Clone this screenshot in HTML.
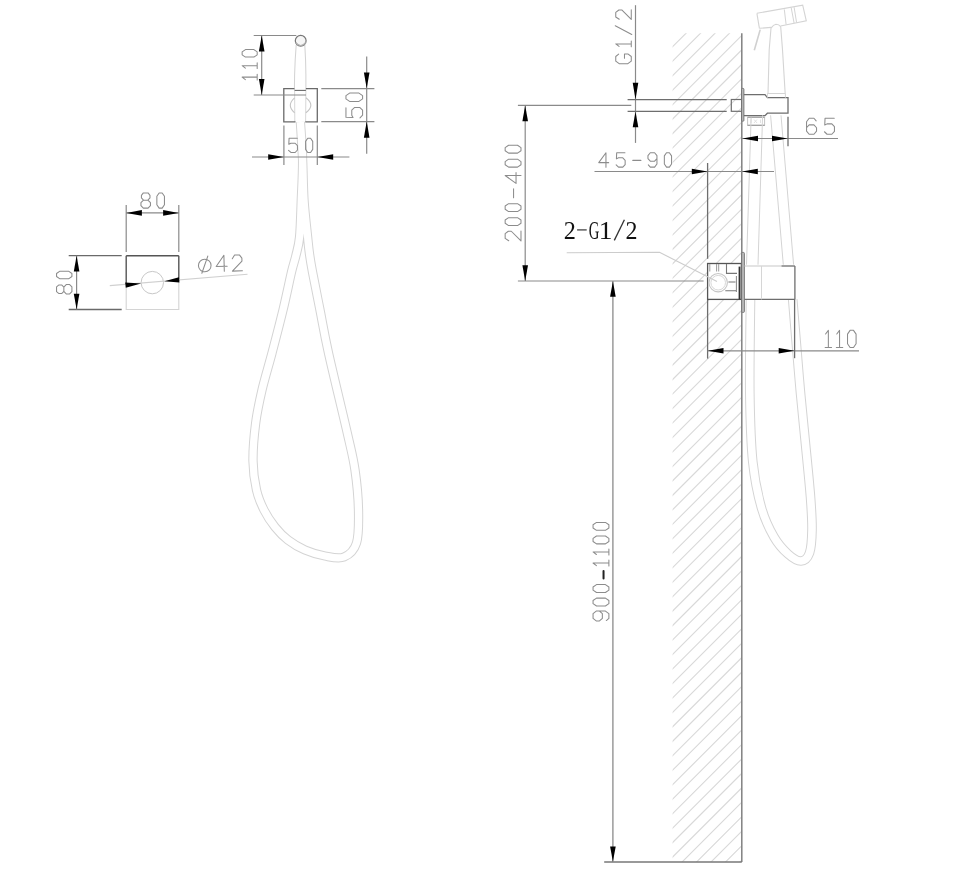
<!DOCTYPE html>
<html><head><meta charset="utf-8"><title>Hygienic shower set drawing</title>
<style>
html,body{margin:0;padding:0;background:#fff;}
body{width:970px;height:870px;overflow:hidden;font-family:"Liberation Sans",sans-serif;}
svg{display:block;}
</style></head>
<body>
<svg width="970" height="870" viewBox="0 0 970 870">
<rect width="970" height="870" fill="#fff"/>
<path d="M300.4,122C300.77,128.33 302.45,147 302.6,160C302.75,173 301.8,187.17 301.3,200C300.8,212.83 300.52,227.67 299.6,237C298.68,246.33 297.15,250.17 295.8,256C294.45,261.83 293.63,263 291.5,272C289.37,281 286.25,296.5 283,310C279.75,323.5 275.5,339.67 272,353C268.5,366.33 264.73,378.25 262,390C259.27,401.75 257.1,411.67 255.6,423.5C254.1,435.33 252.85,449.92 253,461C253.15,472.08 254.67,481.83 256.5,490C258.33,498.17 260.92,503.83 264,510C267.08,516.17 271,522 275,527C279,532 283,536.17 288,540C293,543.83 298.83,547.33 305,550C311.17,552.67 318.5,554.83 325,556C331.5,557.17 338.75,559.17 344,557C349.25,554.83 354.08,550.83 356.5,543C358.92,535.17 358.75,522.17 358.5,510C358.25,497.83 356.83,482.67 355,470C353.17,457.33 351.92,453.5 347.5,434C343.08,414.5 333.08,373.67 328.5,353C323.92,332.33 322.67,323.5 320,310C317.33,296.5 314.25,281.33 312.5,272C310.75,262.67 310.32,259.83 309.5,254C308.68,248.17 308.52,246 307.6,237C306.68,228 304.83,212.83 304,200C303.17,187.17 303.2,173 302.6,160C302,147 300.77,128.33 300.4,122" fill="none" stroke="#d4d4d4" stroke-width="9.3" stroke-linejoin="round"/>
<path d="M300.4,122C300.77,128.33 302.45,147 302.6,160C302.75,173 301.8,187.17 301.3,200C300.8,212.83 300.52,227.67 299.6,237C298.68,246.33 297.15,250.17 295.8,256C294.45,261.83 293.63,263 291.5,272C289.37,281 286.25,296.5 283,310C279.75,323.5 275.5,339.67 272,353C268.5,366.33 264.73,378.25 262,390C259.27,401.75 257.1,411.67 255.6,423.5C254.1,435.33 252.85,449.92 253,461C253.15,472.08 254.67,481.83 256.5,490C258.33,498.17 260.92,503.83 264,510C267.08,516.17 271,522 275,527C279,532 283,536.17 288,540C293,543.83 298.83,547.33 305,550C311.17,552.67 318.5,554.83 325,556C331.5,557.17 338.75,559.17 344,557C349.25,554.83 354.08,550.83 356.5,543C358.92,535.17 358.75,522.17 358.5,510C358.25,497.83 356.83,482.67 355,470C353.17,457.33 351.92,453.5 347.5,434C343.08,414.5 333.08,373.67 328.5,353C323.92,332.33 322.67,323.5 320,310C317.33,296.5 314.25,281.33 312.5,272C310.75,262.67 310.32,259.83 309.5,254C308.68,248.17 308.52,246 307.6,237C306.68,228 304.83,212.83 304,200C303.17,187.17 303.2,173 302.6,160C302,147 300.77,128.33 300.4,122" fill="none" stroke="#fff" stroke-width="7.3" stroke-linejoin="round"/>
<path d="M750.5,299.4C750.38,315 749.42,365.9 749.8,393C750.18,420.1 750.85,442.83 752.8,462C754.75,481.17 757.97,495.5 761.5,508C765.03,520.5 769.58,529.33 774,537C778.42,544.67 783.5,550 788,554C792.5,558 797.42,561.17 801,561C804.58,560.83 807.67,558.17 809.5,553C811.33,547.83 811.83,539.33 812,530C812.17,520.67 811.57,511.17 810.5,497C809.43,482.83 807.27,462.33 805.6,445C803.93,427.67 802.07,410.17 800.5,393C798.93,375.83 797.5,357.6 796.2,342C794.9,326.4 793.28,306.5 792.7,299.4" fill="none" stroke="#d4d4d4" stroke-width="9.6" stroke-linejoin="round"/>
<path d="M750.5,299.4C750.38,315 749.42,365.9 749.8,393C750.18,420.1 750.85,442.83 752.8,462C754.75,481.17 757.97,495.5 761.5,508C765.03,520.5 769.58,529.33 774,537C778.42,544.67 783.5,550 788,554C792.5,558 797.42,561.17 801,561C804.58,560.83 807.67,558.17 809.5,553C811.33,547.83 811.83,539.33 812,530C812.17,520.67 811.57,511.17 810.5,497C809.43,482.83 807.27,462.33 805.6,445C803.93,427.67 802.07,410.17 800.5,393C798.93,375.83 797.5,357.6 796.2,342C794.9,326.4 793.28,306.5 792.7,299.4" fill="none" stroke="#fff" stroke-width="7.6" stroke-linejoin="round"/>
<path d="M296.2,45 Q295,60 294.6,75 L294.4,90.3 M304.8,45 Q305.8,60 305.9,75 L305.9,90.3" stroke="#d2d2d2" stroke-width="1" fill="none"/>
<path d="M294.6,90.3 L294.8,122 M305.9,90.3 L305.6,122" stroke="#d8d8d8" stroke-width="1" fill="none"/>
<circle cx="300.7" cy="40.8" r="5.4" fill="#f6f6f6" stroke="#777" stroke-width="1.2"/>
<path d="M295.6,42.5 Q300.7,48.5 305.8,42.5" stroke="#b0b0b0" stroke-width="1.2" fill="none"/>
<path d="M294.4,88.6 L283.8,88.6 L283.8,121.8 L295.5,121.8 M305.3,121.8 L317.3,121.8 L317.3,88.6 L305.9,88.6" stroke="#6a6a6a" stroke-width="1.3" fill="none"/>
<line x1="294.6" y1="90.4" x2="305.9" y2="90.4" stroke="#6a6a6a" stroke-width="1.1"/>
<path d="M294.6,97.8 Q286,105.3 294.6,112.8 M305.9,97.8 Q315.8,105.3 305.9,112.8" stroke="#c4c4c4" stroke-width="1.1" fill="none"/>
<line x1="253.7" y1="35.5" x2="296.3" y2="35.5" stroke="#8a8a8a" stroke-width="1.2"/>
<line x1="253.7" y1="95" x2="306" y2="95" stroke="#8a8a8a" stroke-width="1.2"/>
<line x1="261.7" y1="35.5" x2="261.7" y2="95" stroke="#8a8a8a" stroke-width="1.2"/>
<path d="M261.7,35.5L264.5,51.5L258.9,51.5Z" fill="#000"/>
<path d="M261.7,95L258.9,79L264.5,79Z" fill="#000"/>
<g transform="translate(242.15,79.95) rotate(-90) scale(0.94)" fill="none" stroke="#8c8c8c" stroke-width="1.12" stroke-linecap="round" stroke-linejoin="round"><path transform="translate(0,0)" d="M0.4,3.4L3,0L3,16M0,16L6,16"/><path transform="translate(12.16,0)" d="M0.4,3.4L3,0L3,16M0,16L6,16"/><path transform="translate(24.32,0)" d="M0,3.5L2.4,0L5.6,0L8,3.5L8,12.5L5.6,16L2.4,16L0,12.5Z"/></g>
<line x1="321.3" y1="88.6" x2="374.4" y2="88.6" stroke="#8a8a8a" stroke-width="1.2"/>
<line x1="321.3" y1="121.6" x2="374.4" y2="121.6" stroke="#8a8a8a" stroke-width="1.2"/>
<line x1="366.7" y1="56.4" x2="366.7" y2="153.8" stroke="#8a8a8a" stroke-width="1.2"/>
<path d="M366.7,88.6L363.9,72.5L369.5,72.5Z" fill="#000"/>
<path d="M366.7,121.6L369.5,137.7L363.9,137.7Z" fill="#000"/>
<g transform="translate(345.95,117.85) rotate(-90) scale(1.04)" fill="none" stroke="#8c8c8c" stroke-width="1.01" stroke-linecap="round" stroke-linejoin="round"><path transform="translate(0,0)" d="M9.8,0L0.6,0L0.3,6.8L2.6,5.6L7.4,5.6L10,8.4L10,13.2L7.4,16L2.6,16L0,13.5"/><path transform="translate(15.81,0)" d="M0,3.5L2.4,0L5.6,0L8,3.5L8,12.5L5.6,16L2.4,16L0,12.5Z"/></g>
<line x1="252" y1="157" x2="349.4" y2="157" stroke="#8a8a8a" stroke-width="1.2"/>
<line x1="283.9" y1="125.6" x2="283.9" y2="165" stroke="#8a8a8a" stroke-width="1.2"/>
<line x1="317.3" y1="125.6" x2="317.3" y2="165" stroke="#8a8a8a" stroke-width="1.2"/>
<path d="M283.9,157L268.2,159.8L268.2,154.2Z" fill="#000"/>
<path d="M317.3,157L333.2,154.2L333.2,159.8Z" fill="#000"/>
<g transform="translate(288.55,138.25) scale(0.89)" fill="none" stroke="#8c8c8c" stroke-width="1.18" stroke-linecap="round" stroke-linejoin="round"><path transform="translate(0,0)" d="M9.8,0L0.6,0L0.3,6.8L2.6,5.6L7.4,5.6L10,8.4L10,13.2L7.4,16L2.6,16L0,13.5"/><path transform="translate(19.15,0)" d="M0,3.5L2.4,0L5.6,0L8,3.5L8,12.5L5.6,16L2.4,16L0,12.5Z"/></g>
<line x1="126.2" y1="255.7" x2="178.8" y2="255.7" stroke="#555" stroke-width="1.4"/>
<line x1="126.2" y1="255.7" x2="126.2" y2="284" stroke="#555" stroke-width="1.4"/>
<line x1="178.8" y1="255.7" x2="178.8" y2="281" stroke="#555" stroke-width="1.4"/>
<path d="M126.2,284 L126.2,309.5 L178.8,309.5 L178.8,281" stroke="#d4d4d4" stroke-width="1.1" fill="none"/>
<circle cx="152.3" cy="282.6" r="11.2" fill="none" stroke="#c8c8c8" stroke-width="1"/>
<line x1="109.8" y1="285.6" x2="247.5" y2="274.3" stroke="#d0d0d0" stroke-width="1.1"/>
<path d="M141.1,283.6L125.77,287.79L125.23,282.61Z" fill="#000"/>
<path d="M164.3,281.3L178.94,277.21L179.46,282.39Z" fill="#000"/>
<g transform="translate(198.2,256) rotate(-1.5) scale(1)" fill="none" stroke="#8c8c8c" stroke-width="1.05" stroke-linecap="round" stroke-linejoin="round"><path transform="translate(0,0)" d="M0,9.7A6.3,6.3 0 1 1 12.6,9.7A6.3,6.3 0 1 1 0,9.7ZM9.6,0.3L3.2,17.3"/><path transform="translate(17.7,0)" d="M8,16L8,0L0,11L11,11"/><path transform="translate(33.8,0)" d="M0.2,3.6L2.6,0L7.4,0L9.8,3.2L9.8,6.2L0,16L10,16"/></g>
<line x1="126.2" y1="205" x2="126.2" y2="252" stroke="#8a8a8a" stroke-width="1.2"/>
<line x1="178.8" y1="205" x2="178.8" y2="252" stroke="#8a8a8a" stroke-width="1.2"/>
<line x1="126.2" y1="212.9" x2="178.8" y2="212.9" stroke="#8a8a8a" stroke-width="1.2"/>
<path d="M126.2,212.9L141.9,210.1L141.9,215.7Z" fill="#000"/>
<path d="M178.8,212.9L163.1,215.7L163.1,210.1Z" fill="#000"/>
<g transform="translate(140.95,192.95) scale(0.95)" fill="none" stroke="#8c8c8c" stroke-width="1.11" stroke-linecap="round" stroke-linejoin="round"><path transform="translate(0,0)" d="M2.7,7.6L0.5,5.3L0.5,2.5L2.5,0L7.5,0L9.5,2.5L9.5,5.3L7.3,7.6ZM2.7,7.6L0,10.3L0,13.4L2.5,16L7.5,16L10,13.4L10,10.3L7.3,7.6"/><path transform="translate(16.74,0)" d="M0,3.5L2.4,0L5.6,0L8,3.5L8,12.5L5.6,16L2.4,16L0,12.5Z"/></g>
<line x1="68.7" y1="255.7" x2="121.7" y2="255.7" stroke="#6a6a6a" stroke-width="1.3"/>
<line x1="68.7" y1="309.5" x2="121.7" y2="309.5" stroke="#6a6a6a" stroke-width="1.3"/>
<line x1="76.6" y1="255.7" x2="76.6" y2="309.5" stroke="#8a8a8a" stroke-width="1.2"/>
<path d="M76.6,255.7L79.4,271.4L73.8,271.4Z" fill="#000"/>
<path d="M76.6,309.5L73.8,293.8L79.4,293.8Z" fill="#000"/>
<g transform="translate(56.55,294.05) rotate(-90) scale(0.96)" fill="none" stroke="#8c8c8c" stroke-width="1.1" stroke-linecap="round" stroke-linejoin="round"><path transform="translate(0,0)" d="M2.7,7.6L0.5,5.3L0.5,2.5L2.5,0L7.5,0L9.5,2.5L9.5,5.3L7.3,7.6ZM2.7,7.6L0,10.3L0,13.4L2.5,16L7.5,16L10,13.4L10,10.3L7.3,7.6"/><path transform="translate(15.84,0)" d="M0,3.5L2.4,0L5.6,0L8,3.5L8,12.5L5.6,16L2.4,16L0,12.5Z"/></g>
<clipPath id="wc"><rect x="672.6" y="33.2" width="69.2" height="828.8"/></clipPath>
<path clip-path="url(#wc)" d="M-180.7,900L719.3,0M-166.23,900L733.77,0M-151.76,900L748.24,0M-137.29,900L762.71,0M-122.82,900L777.18,0M-108.35,900L791.65,0M-93.88,900L806.12,0M-79.41,900L820.59,0M-64.94,900L835.06,0M-50.47,900L849.53,0M-36,900L864,0M-21.53,900L878.47,0M-7.06,900L892.94,0M7.41,900L907.41,0M21.88,900L921.88,0M36.35,900L936.35,0M50.82,900L950.82,0M65.29,900L965.29,0M79.76,900L979.76,0M94.23,900L994.23,0M108.7,900L1008.7,0M123.17,900L1023.17,0M137.64,900L1037.64,0M152.11,900L1052.11,0M166.58,900L1066.58,0M181.05,900L1081.05,0M195.52,900L1095.52,0M209.99,900L1109.99,0M224.46,900L1124.46,0M238.93,900L1138.93,0M253.4,900L1153.4,0M267.87,900L1167.87,0M282.34,900L1182.34,0M296.81,900L1196.81,0M311.28,900L1211.28,0M325.75,900L1225.75,0M340.22,900L1240.22,0M354.69,900L1254.69,0M369.16,900L1269.16,0M383.63,900L1283.63,0M398.1,900L1298.1,0M412.57,900L1312.57,0M427.04,900L1327.04,0M441.51,900L1341.51,0M455.98,900L1355.98,0M470.45,900L1370.45,0M484.92,900L1384.92,0M499.39,900L1399.39,0M513.86,900L1413.86,0M528.33,900L1428.33,0M542.8,900L1442.8,0M557.27,900L1457.27,0M571.74,900L1471.74,0M586.21,900L1486.21,0M600.68,900L1500.68,0M615.15,900L1515.15,0M629.62,900L1529.62,0M644.09,900L1544.09,0M658.56,900L1558.56,0M673.03,900L1573.03,0M687.5,900L1587.5,0M701.97,900L1601.97,0M716.44,900L1616.44,0M-195.17,900L704.83,0M-209.64,900L690.36,0" stroke="#d8d8d8" stroke-width="1.1" fill="none"/>
<line x1="741.8" y1="33.2" x2="741.8" y2="862" stroke="#808080" stroke-width="1.5"/>
<line x1="604.2" y1="862" x2="741.8" y2="862" stroke="#777" stroke-width="1.4"/>
<line x1="612.9" y1="281" x2="612.9" y2="862" stroke="#8a8a8a" stroke-width="1.3"/>
<path d="M612.9,281.2L615.7,296.7L610.1,296.7Z" fill="#000"/>
<path d="M612.9,861.8L610.1,846.5L615.7,846.5Z" fill="#000"/>
<g transform="translate(593.05,620.95) rotate(-90) scale(0.99)" fill="none" stroke="#8c8c8c" stroke-width="1.06" stroke-linecap="round" stroke-linejoin="round"><path transform="translate(0,0)" d="M0.4,13.4L2.6,16L7.4,16L10,12.5L10,3.2L7.4,0L2.6,0L0,3.2L0,6.5L2.6,9.4L7.4,9.4L10,6.5"/><path transform="translate(15.05,0)" d="M0,3.5L2.4,0L5.6,0L8,3.5L8,12.5L5.6,16L2.4,16L0,12.5Z"/><path transform="translate(28.73,0)" d="M0,3.5L2.4,0L5.6,0L8,3.5L8,12.5L5.6,16L2.4,16L0,12.5Z"/><path transform="translate(42.41,0)" d="M0.5,10.6L8,10.6" stroke="#222" stroke-width="2.03"/><path transform="translate(55.52,0)" d="M0.4,3.4L3,0L3,16M0,16L6,16"/><path transform="translate(66.69,0)" d="M0.4,3.4L3,0L3,16M0,16L6,16"/><path transform="translate(77.86,0)" d="M0,3.5L2.4,0L5.6,0L8,3.5L8,12.5L5.6,16L2.4,16L0,12.5Z"/><path transform="translate(91.54,0)" d="M0,3.5L2.4,0L5.6,0L8,3.5L8,12.5L5.6,16L2.4,16L0,12.5Z"/></g>
<line x1="517.9" y1="105.4" x2="631.3" y2="105.4" stroke="#8a8a8a" stroke-width="1.2"/>
<line x1="517.9" y1="281" x2="703.6" y2="281" stroke="#8a8a8a" stroke-width="1.2"/>
<line x1="525.2" y1="105.4" x2="525.2" y2="281" stroke="#8a8a8a" stroke-width="1.2"/>
<path d="M525.2,105.4L528,121.2L522.4,121.2Z" fill="#000"/>
<path d="M525.2,281L522.4,265.2L528,265.2Z" fill="#000"/>
<g transform="translate(505.15,240.95) rotate(-90) scale(0.99)" fill="none" stroke="#8c8c8c" stroke-width="1.06" stroke-linecap="round" stroke-linejoin="round"><path transform="translate(0,0)" d="M0.2,3.6L2.6,0L7.4,0L9.8,3.2L9.8,6.2L0,16L10,16"/><path transform="translate(15.53,0)" d="M0,3.5L2.4,0L5.6,0L8,3.5L8,12.5L5.6,16L2.4,16L0,12.5Z"/><path transform="translate(29.65,0)" d="M0,3.5L2.4,0L5.6,0L8,3.5L8,12.5L5.6,16L2.4,16L0,12.5Z"/><path transform="translate(43.76,0)" d="M0,8.5L9,8.5"/><path transform="translate(58.12,0)" d="M8,16L8,0L0,11L11,11"/><path transform="translate(74.59,0)" d="M0,3.5L2.4,0L5.6,0L8,3.5L8,12.5L5.6,16L2.4,16L0,12.5Z"/><path transform="translate(88.7,0)" d="M0,3.5L2.4,0L5.6,0L8,3.5L8,12.5L5.6,16L2.4,16L0,12.5Z"/></g>
<line x1="635.5" y1="5.2" x2="635.5" y2="142.9" stroke="#8a8a8a" stroke-width="1.2"/>
<path d="M635.5,99.6L632.7,82.8L638.3,82.8Z" fill="#000"/>
<path d="M635.5,111.6L638.3,127.3L632.7,127.3Z" fill="#000"/>
<g transform="translate(615.75,63.65) rotate(-90) scale(0.97)" fill="none" stroke="#8c8c8c" stroke-width="1.08" stroke-linecap="round" stroke-linejoin="round"><path transform="translate(0,0)" d="M9.8,3L7.4,0L2.6,0L0,3.5L0,12.5L2.6,16L7.4,16L10,12.5L10,9L5.5,9"/><path transform="translate(17.33,0)" d="M0.4,3.4L3,0L3,16M0,16L6,16"/><path transform="translate(30.01,0)" d="M9,-0.5L0,16.5"/><path transform="translate(45.54,0)" d="M0.2,3.6L2.6,0L7.4,0L9.8,3.2L9.8,6.2L0,16L10,16"/></g>
<line x1="627.6" y1="99.7" x2="726.7" y2="99.7" stroke="#6e6e6e" stroke-width="1.3"/>
<line x1="627.6" y1="111.3" x2="726.7" y2="111.3" stroke="#6e6e6e" stroke-width="1.3"/>
<rect x="731.3" y="99.5" width="10.5" height="11.8" stroke="#6e6e6e" stroke-width="1.2" fill="none"/>
<rect x="741.6" y="88.4" width="2.3" height="32.8" rx="0.8" fill="#bdbdbd" stroke="#6e6e6e" stroke-width="0.9"/>
<path d="M743.9,94.6 L765,94.6 L767.4,97.7 L788,97.7 L788,113.2 L767.4,113.2 L765,115.7 L743.9,115.7" stroke="#6e6e6e" stroke-width="1.3" fill="none"/>
<rect x="747.6" y="117.2" width="17" height="8.1" stroke="#c4c4c4" stroke-width="1.0" fill="none"/>
<line x1="747.6" y1="117.2" x2="764.6" y2="117.2" stroke="#9a9a9a" stroke-width="1.1"/>
<line x1="747.6" y1="125.3" x2="764.6" y2="125.3" stroke="#9a9a9a" stroke-width="1.1"/>
<path d="M751,119.5 L751,123 M754,119.5 L757,123 M757,119.5 L754,123 M760.5,119.5 L760.5,123" stroke="#dadada" stroke-width="0.8" fill="none"/>
<path d="M756.9,13.3 L802.7,5.1 L806.3,20.9 L780.5,26 M771.2,27.4 L759.4,28.3" stroke="#d4d4d4" stroke-width="1.1" fill="none"/>
<path d="M759.4,28.3 L756.9,13.3" stroke="#d4d4d4" stroke-width="1.1" fill="none"/>
<path d="M784.3,9.4 L786.1,24.5 M791.2,7.6 L794.1,23.1 M794.1,7.2 L796.6,22.7" stroke="#d4d4d4" stroke-width="1" fill="none"/>
<path d="M768,93.8 L769.2,49.8 L771,28.1 Q773.5,24.6 776,24.2 Q779,24.2 780.7,26.7 L782.5,49.8 L785.2,93.8" stroke="#d4d4d4" stroke-width="1.1" fill="none"/>
<path d="M760.2,29.6 L754.3,50.2" stroke="#d0d0d0" stroke-width="1.6" fill="none"/>
<path d="M767.4,97.7 L767.4,93.5 L785.4,93.5 L785.4,97.7" stroke="#d4d4d4" stroke-width="1" fill="none"/>
<path d="M751.1,117.6 L746.5,264.7 M762.6,115.3 L758,264.7 M770.6,115.3 L783.3,264.7 M781,115.3 L793.6,264.7" stroke="#d4d4d4" stroke-width="1" fill="none"/>
<line x1="742" y1="138.5" x2="838" y2="138.5" stroke="#8a8a8a" stroke-width="1.2"/>
<line x1="788" y1="116.7" x2="788" y2="146.2" stroke="#6e6e6e" stroke-width="1.3"/>
<path d="M742.3,138.5L758,135.7L758,141.3Z" fill="#000"/>
<path d="M787.7,138.5L772,141.3L772,135.7Z" fill="#000"/>
<g transform="translate(806.55,118.25) scale(1)" fill="none" stroke="#8c8c8c" stroke-width="1.05" stroke-linecap="round" stroke-linejoin="round"><path transform="translate(0,0)" d="M9.6,2.6L7.4,0L2.6,0L0,3.5L0,12.8L2.6,16L7.4,16L10,12.8L10,9.5L7.4,6.6L2.6,6.6L0,9.5"/><path transform="translate(17.9,0)" d="M9.8,0L0.6,0L0.3,6.8L2.6,5.6L7.4,5.6L10,8.4L10,13.2L7.4,16L2.6,16L0,13.5"/></g>
<line x1="594.5" y1="171.5" x2="774" y2="171.5" stroke="#8a8a8a" stroke-width="1.2"/>
<path d="M707.6,171.5L691.8,174.3L691.8,168.7Z" fill="#000"/>
<path d="M742,171.5L757.8,168.7L757.8,174.3Z" fill="#000"/>
<g transform="translate(598.75,152.75) scale(0.9)" fill="none" stroke="#8c8c8c" stroke-width="1.17" stroke-linecap="round" stroke-linejoin="round"><path transform="translate(0,0)" d="M8,16L8,0L0,11L11,11"/><path transform="translate(19.33,0)" d="M9.8,0L0.6,0L0.3,6.8L2.6,5.6L7.4,5.6L10,8.4L10,13.2L7.4,16L2.6,16L0,13.5"/><path transform="translate(37.82,0)" d="M0,8.5L9,8.5"/><path transform="translate(54.67,0)" d="M0.4,13.4L2.6,16L7.4,16L10,12.5L10,3.2L7.4,0L2.6,0L0,3.2L0,6.5L2.6,9.4L7.4,9.4L10,6.5"/><path transform="translate(72.89,0)" d="M0,3.5L2.4,0L5.6,0L8,3.5L8,12.5L5.6,16L2.4,16L0,12.5Z"/></g>
<line x1="707.6" y1="163" x2="707.6" y2="258.8" stroke="#6e6e6e" stroke-width="1.3"/>
<line x1="707.6" y1="299.4" x2="707.6" y2="358.6" stroke="#6e6e6e" stroke-width="1.3"/>
<filter id="gs" x="-5%" y="-5%" width="110%" height="110%"><feColorMatrix type="saturate" values="0"/></filter>
<g filter="url(#gs)">
<text transform="translate(563.74,238.7) scale(0.94,1)" font-family="Liberation Serif, serif" font-size="25.8" fill="#111">2</text>
<text transform="translate(588.79,238.7) scale(0.57,1)" font-family="Liberation Serif, serif" font-size="25.8" fill="#111">G</text>
<text transform="translate(598.8,238.7) scale(1.06,1)" font-family="Liberation Serif, serif" font-size="25.8" fill="#111">1</text>
<text transform="translate(625.55,238.7) scale(0.93,1)" font-family="Liberation Serif, serif" font-size="25.8" fill="#111">2</text>
</g>
<line x1="577.1" y1="229.9" x2="586.7" y2="229.9" stroke="#444" stroke-width="1.3"/>
<line x1="624.4" y1="219.8" x2="614.3" y2="240.4" stroke="#333" stroke-width="1.3"/>
<rect x="707.6" y="263.5" width="33.8" height="35.9" stroke="#555" stroke-width="1.3" fill="#fff"/>
<path d="M566.7,252.7 L659.5,252.3 L717,281.4" stroke="#cccccc" stroke-width="1.1" fill="none"/>
<circle cx="718.2" cy="282.7" r="9.2" fill="none" stroke="#c6c6c6" stroke-width="1.1"/>
<circle cx="718.2" cy="282.7" r="7.3" fill="none" stroke="#d8d8d8" stroke-width="1"/>
<path d="M709.8,264 L709.8,271.5 M716.6,264 L716.6,271.5 M718.7,264 L718.7,271.5" stroke="#9a9a9a" stroke-width="1" fill="none"/>
<path d="M726.5,264 L726.5,273.4 L737,273.4" stroke="#777" stroke-width="1.1" fill="none"/>
<path d="M728.4,282 L735.5,282 M725.3,290.7 L736,290.7" stroke="#777" stroke-width="1.1" fill="none"/>
<path d="M736.4,276 L736.4,292" stroke="#777" stroke-width="0.9" fill="none"/>
<rect x="738.6" y="266.6" width="1.8" height="32.8" fill="#333"/>
<rect x="741.7" y="252.4" width="2.7" height="60" rx="1" fill="#bdbdbd" stroke="#6e6e6e" stroke-width="0.9"/>
<line x1="744.4" y1="266" x2="781.5" y2="266" stroke="#c8c8c8" stroke-width="1.1"/>
<line x1="781.5" y1="266" x2="794.9" y2="266" stroke="#6e6e6e" stroke-width="1.3"/>
<line x1="794.9" y1="266" x2="794.9" y2="299.4" stroke="#6e6e6e" stroke-width="1.3"/>
<line x1="744.4" y1="299.4" x2="794.9" y2="299.4" stroke="#6e6e6e" stroke-width="1.3"/>
<line x1="761.5" y1="266" x2="761.5" y2="299.4" stroke="#d6d6d6" stroke-width="1"/>
<line x1="707.6" y1="350.8" x2="859" y2="350.8" stroke="#8a8a8a" stroke-width="1.2"/>
<line x1="794.6" y1="299.4" x2="794.6" y2="358.2" stroke="#6e6e6e" stroke-width="1.3"/>
<path d="M707.9,350.8L723.5,348L723.5,353.6Z" fill="#000"/>
<path d="M794.3,350.8L778.7,353.6L778.7,348Z" fill="#000"/>
<g transform="translate(825.15,330.35) scale(1.07)" fill="none" stroke="#8c8c8c" stroke-width="0.98" stroke-linecap="round" stroke-linejoin="round"><path transform="translate(0,0)" d="M0.4,3.4L3,0L3,16M0,16L6,16"/><path transform="translate(10.46,0)" d="M0.4,3.4L3,0L3,16M0,16L6,16"/><path transform="translate(20.91,0)" d="M0,3.5L2.4,0L5.6,0L8,3.5L8,12.5L5.6,16L2.4,16L0,12.5Z"/></g>
</svg>
</body></html>
